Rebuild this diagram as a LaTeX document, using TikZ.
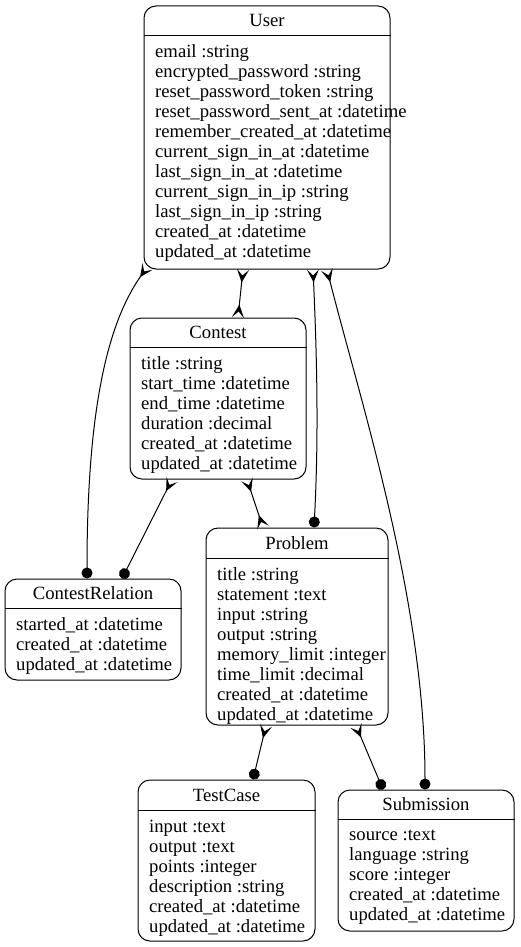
\documentclass[tikz,border=0pt]{standalone}
\usepackage{fontspec}
\setmainfont{Liberation Serif}
\usetikzlibrary{arrows.meta,calc}

\begin{document}
\begin{tikzpicture}[
    x=1pt, y=-1pt,
    entity/.style={rectangle, draw=black, line width=1pt, rounded corners=12pt, inner sep=0pt},
    title/.style={anchor=base, inner sep=0pt, font=\fontsize{18.67}{20}\selectfont},
    attrs/.style={anchor=north west, inner sep=0pt, align=left, font=\fontsize{18.67}{20}\selectfont},
    sep/.style={line width=1pt},
    link/.style={line width=1pt},
    crow/.tip={Stealth[reversed, length=13pt, width=12pt, inset=6pt]},
    manymany/.style={link, {crow}-{crow}},
    manyone/.style={link, {crow}-{Circle[length=11pt]}}
]
\useasboundingbox (0,0) rectangle (520,947);

% Entities
\node[entity, minimum width=246pt, minimum height=263pt] (user) at (267,137.5) {};
\node[entity, minimum width=176pt, minimum height=161pt] (contest) at (218,398.5) {};
\node[entity, minimum width=182pt, minimum height=197pt] (problem) at (297,626.5) {};
\node[entity, minimum width=176pt, minimum height=101pt] (relation) at (93,629.5) {};
\node[entity, minimum width=177pt, minimum height=161pt] (testcase) at (226.5,860.5) {};
\node[entity, minimum width=176pt, minimum height=141pt] (submission) at (426,860.5) {};

% Titles
\node[title] (user-title) at (267,27) {User};
\node[title] (contest-title) at (218,338) {Contest};
\node[title] (problem-title) at (297,549) {Problem};
\node[title] (relation-title) at (93,599) {ContestRelation};
\node[title] (testcase-title) at (226.5,801) {TestCase};
\node[title] (submission-title) at (426,810) {Submission};

% Separators
\draw[sep] (user.west |- 0,36) -- (user.east |- 0,36);
\draw[sep] (contest.west |- 0,347) -- (contest.east |- 0,347);
\draw[sep] (problem.west |- 0,558) -- (problem.east |- 0,558);
\draw[sep] (relation.west |- 0,608) -- (relation.east |- 0,608);
\draw[sep] (testcase.west |- 0,810) -- (testcase.east |- 0,810);
\draw[sep] (submission.west |- 0,819) -- (submission.east |- 0,819);

% Attributes
\node[attrs] (user-attrs) at (155,43) {\strut email :string\\ encrypted\_password :string\\ reset\_password\_token :string\\ reset\_password\_sent\_at :datetime\\ remember\_created\_at :datetime\\ current\_sign\_in\_at :datetime\\ last\_sign\_in\_at :datetime\\ current\_sign\_in\_ip :string\\ last\_sign\_in\_ip :string\\ created\_at :datetime\\ updated\_at :datetime};
\node[attrs] (contest-attrs) at (141,355) {\strut title :string\\ start\_time :datetime\\ end\_time :datetime\\ duration :decimal\\ created\_at :datetime\\ updated\_at :datetime};
\node[attrs] (problem-attrs) at (217,566) {\strut title :string\\ statement :text\\ input :string\\ output :string\\ memory\_limit :integer\\ time\_limit :decimal\\ created\_at :datetime\\ updated\_at :datetime};
\node[attrs] (relation-attrs) at (16,616) {\strut started\_at :datetime\\ created\_at :datetime\\ updated\_at :datetime};
\node[attrs] (testcase-attrs) at (149,818) {\strut input :text\\ output :text\\ points :integer\\ description :string\\ created\_at :datetime\\ updated\_at :datetime};
\node[attrs] (submission-attrs) at (349,826) {\strut source :text\\ language :string\\ score :integer\\ created\_at :datetime\\ updated\_at :datetime};

% Relations
\draw[manymany] (user.south -| 243,0) -- (contest.north -| 238,0);
\draw[manyone] ($(user.south west)+(4,-3)$) .. controls (110,320) and (87,400) .. (relation.north -| 87,0);
\draw[manyone] (user.south -| 313,0) .. controls (318,380) and (318,450) .. (problem.north -| 314,0);
\draw[manyone] (user.south -| 327,0) .. controls (360,400) and (425,600) .. (submission.north -| 425,0);
\draw[manyone] (contest.south -| 172,0) -- (relation.north -| 122,0);
\draw[manymany] (contest.south -| 247,0) -- (problem.north -| 263,0);
\draw[manyone] (problem.south -| 266,0) -- (testcase.north -| 253,0);
\draw[manyone] (problem.south -| 356,0) -- (submission.north -| 383,0);

\end{tikzpicture}
\end{document}
